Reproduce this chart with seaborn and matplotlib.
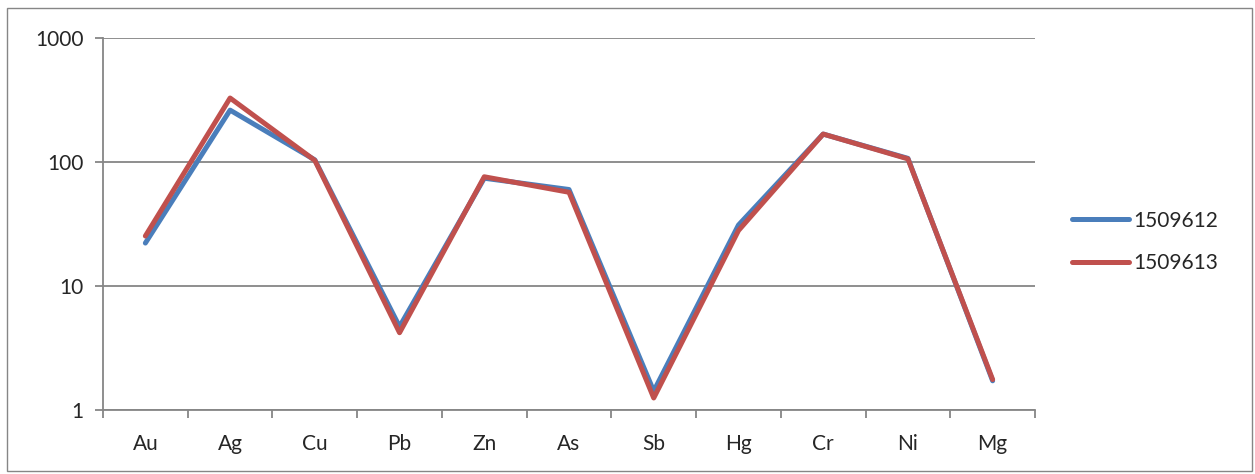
import numpy as np
import pandas as pd
import matplotlib
matplotlib.use("Agg")
import matplotlib.pyplot as plt
from matplotlib.patches import Rectangle
import seaborn as sns

# Element concentrations for two samples (log scale)
elements = ["Au", "Ag", "Cu", "Pb", "Zn", "As", "Sb", "Hg", "Cr", "Ni", "Mg"]
sample_a = [22.2, 262, 104, 4.7, 74, 60, 1.42, 31, 168, 107, 1.72]
sample_b = [25.3, 328, 103, 4.2, 76, 57, 1.25, 28, 168, 106, 1.76]
series_names = ["1509612", "1509613"]
series_colors = ["#4A7EBB", "#C0504D"]

df = pd.DataFrame({
    "element": elements * 2,
    "value": sample_a + sample_b,
    "sample": [series_names[0]] * len(elements) + [series_names[1]] * len(elements),
})

sns.set_style("white")
plt.rcParams["font.family"] = ["Lato", "DejaVu Sans"]

fig = plt.figure(figsize=(12.55, 4.74), dpi=100)
ax = fig.add_axes([103 / 1255, 1 - 410 / 474, (1035 - 103) / 1255, (410 - 38) / 474])

sns.lineplot(data=df, x="element", y="value", hue="sample",
             palette=dict(zip(series_names, series_colors)),
             sort=False, linewidth=3.6, ax=ax, legend=False)

grid_c = "#868686"
ax.set_yscale("log")
ax.set_ylim(1, 1000)
ax.set_xlim(-0.5, len(elements) - 0.5)
ax.set_yticks([1, 10, 100, 1000])
ax.set_yticklabels(["1", "10", "100", "1000"])
ax.yaxis.set_minor_locator(matplotlib.ticker.NullLocator())
ax.set_xticks(range(len(elements)))
ax.set_xticklabels(elements)
ax.set_xticks(np.arange(-0.5, len(elements)), minor=True)
ax.set_xlabel("")
ax.set_ylabel("")

ax.grid(axis="y", color=grid_c, linewidth=1.3)
ax.set_axisbelow(True)
for side in ["top", "right"]:
    ax.spines[side].set_visible(False)
for side in ["left", "bottom"]:
    ax.spines[side].set_color(grid_c)
    ax.spines[side].set_linewidth(1.3)

ax.tick_params(axis="y", which="major", length=6, width=1.3, color=grid_c,
               labelsize=15, pad=8, left=True)
ax.tick_params(axis="x", which="major", length=0, labelsize=15, pad=17)
ax.tick_params(axis="x", which="minor", length=5.5, width=1.3, color=grid_c,
               bottom=True, direction="out")

handles = [plt.Line2D([], [], color=c, linewidth=3.6, solid_capstyle="round")
           for c in series_colors]
fig.legend(handles, series_names, loc="center left",
           bbox_to_anchor=(1072 / 1255, 1 - 242 / 474), frameon=False,
           fontsize=15, handlelength=2.75, handletextpad=0.2,
           labelspacing=1.1, borderpad=0, borderaxespad=0)

# Chart frame
fig.patches.append(Rectangle((7 / 1255, 3 / 474), 1245 / 1255, 463 / 474,
                             transform=fig.transFigure, fill=False,
                             edgecolor=grid_c, linewidth=1.0))

fig.savefig("out.png", dpi=100)
